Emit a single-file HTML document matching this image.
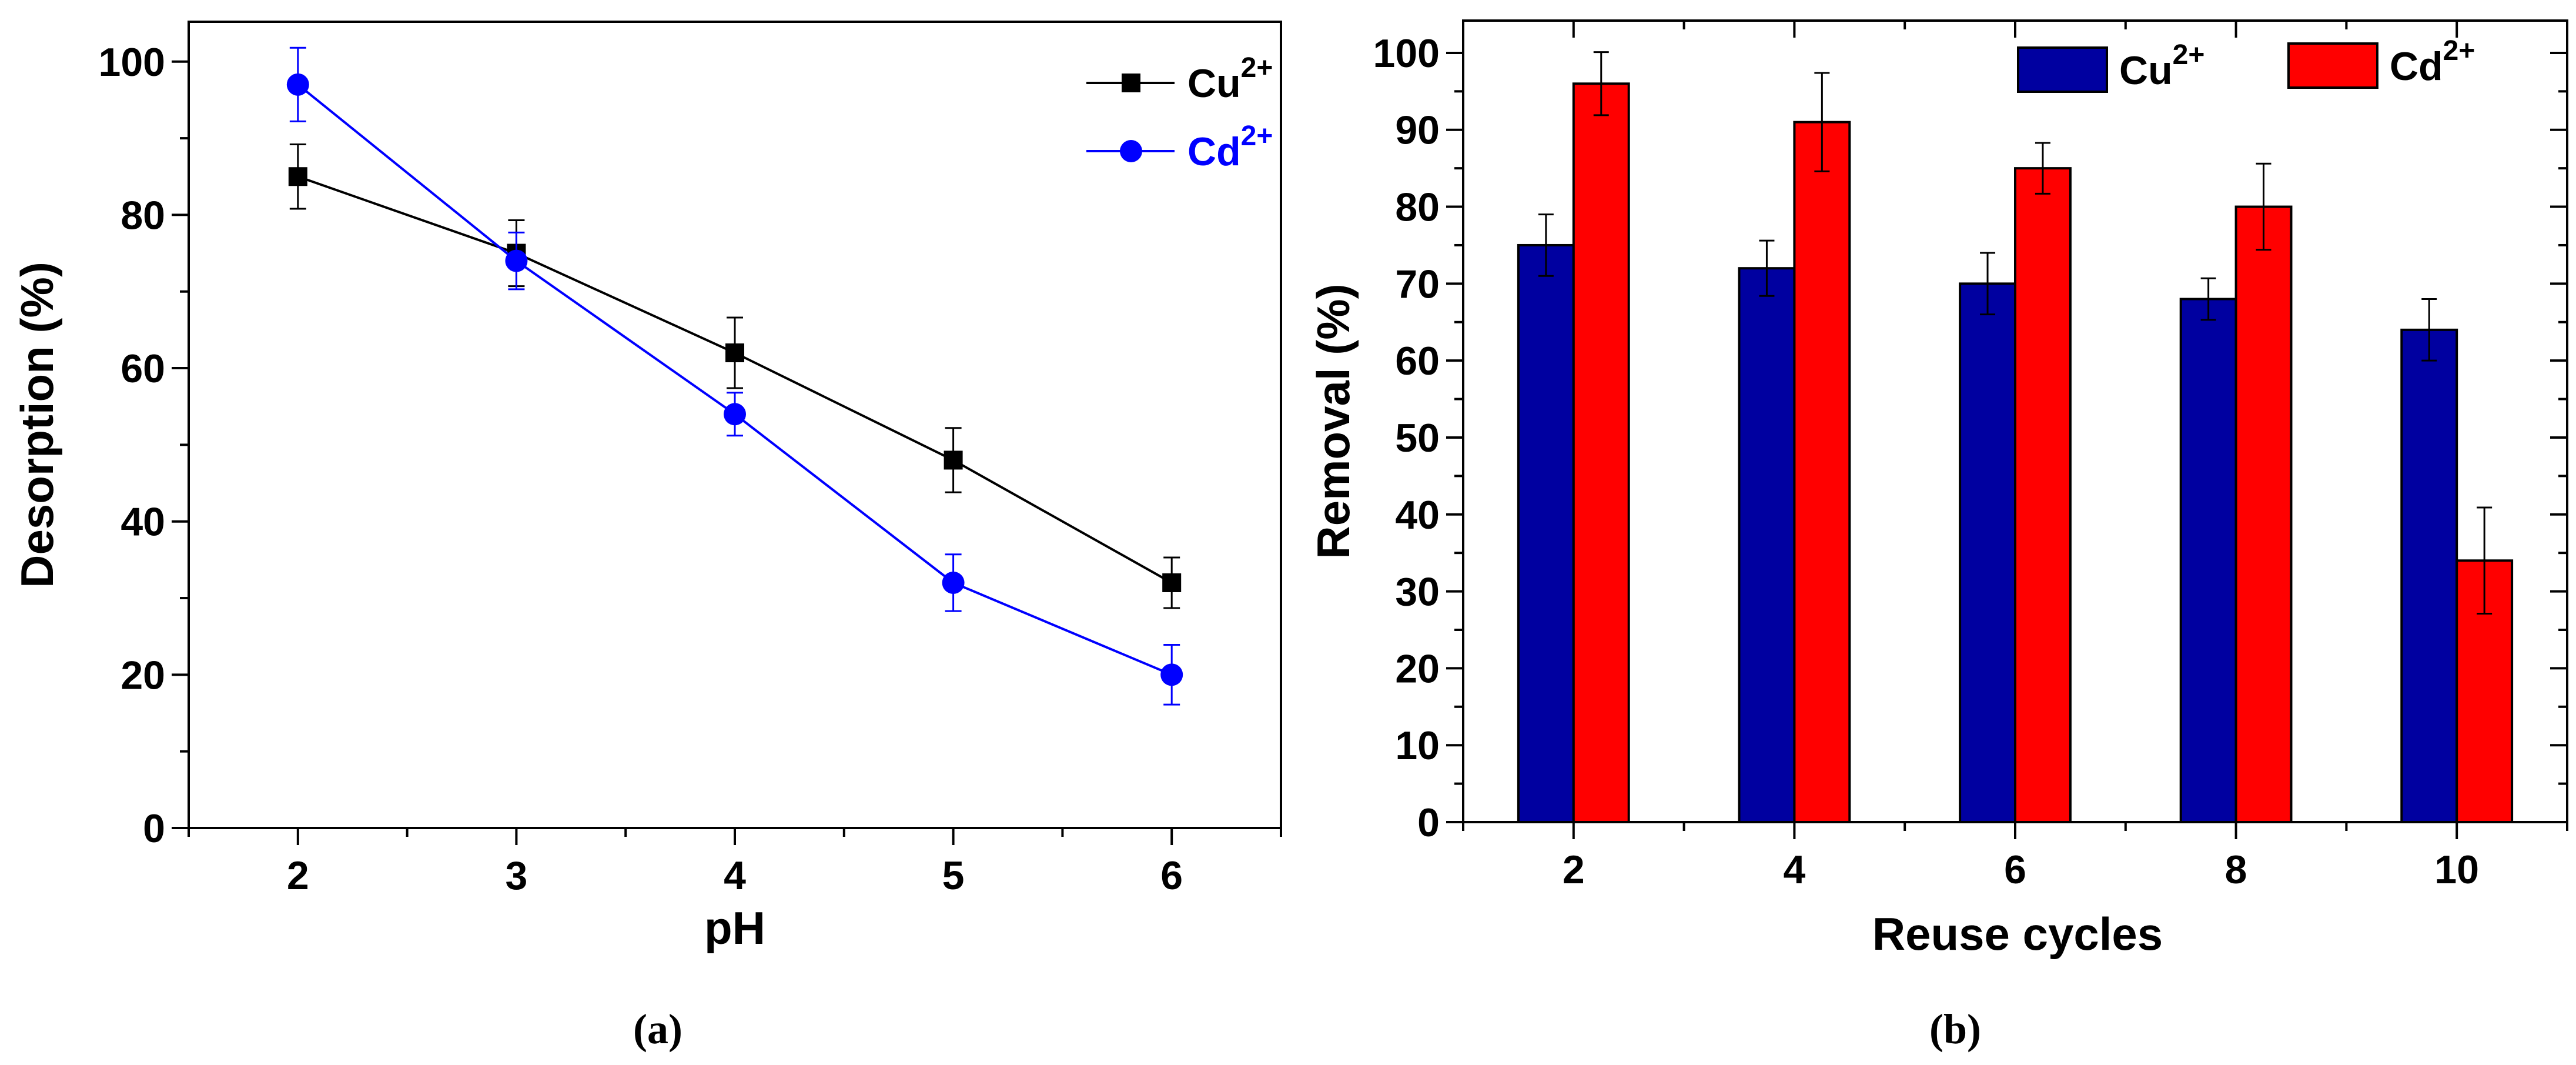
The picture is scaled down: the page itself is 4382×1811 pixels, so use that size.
<!DOCTYPE html>
<html><head><meta charset="utf-8"><style>
html,body{margin:0;padding:0;background:#fff;}
svg{display:block;}
text{font-family:"Liberation Sans",Arial,sans-serif;font-weight:bold;}
</style></head><body>
<svg id="fig" width="4382" height="1811" viewBox="0 0 4382 1811" xmlns="http://www.w3.org/2000/svg"></svg>
<script>
// ---- Chart (a) data ----
const phValues = [2, 3, 4, 5, 6];
const cuDesorption = [85, 75, 62, 48, 32];
const cuDesorptionErr = [4.2, 4.3, 4.6, 4.2, 3.3];
const cdDesorption = [97, 74, 54, 32, 20];
const cdDesorptionErr = [4.8, 3.7, 2.8, 3.7, 3.9];
const aYTicks = [0, 20, 40, 60, 80, 100];
const aXTicks = [2, 3, 4, 5, 6];
// ---- Chart (b) data ----
const reuseCycles = [2, 4, 6, 8, 10];
const cuRemoval = [75, 72, 70, 68, 64];
const cuRemovalErr = [4, 3.6, 4, 2.7, 4];
const cdRemoval = [96, 91, 85, 80, 34];
const cdRemovalErr = [4.1, 6.4, 3.3, 5.6, 6.9];
const bYTicks = [0, 10, 20, 30, 40, 50, 60, 70, 80, 90, 100];
const bXTicks = [2, 4, 6, 8, 10];

const NS = "http://www.w3.org/2000/svg";
const svg = document.getElementById('fig');
function mk(tag, attrs, parent) {
  const e = document.createElementNS(NS, tag);
  for (const k in attrs) e.setAttribute(k, attrs[k]);
  (parent || svg).appendChild(e);
  return e;
}
function line(x1, y1, x2, y2, stroke, w, p) {
  return mk('line', {x1, y1, x2, y2, stroke, 'stroke-width': w}, p);
}
function txt(x, y, s, size, anchor, p, fill) {
  const t = mk('text', {x, y, 'font-size': size, 'text-anchor': anchor || 'middle', fill: fill || '#000'}, p);
  t.textContent = s;
  return t;
}

// ================= Chart (a) =================
const A = {l: 321, r: 2179, t: 37, b: 1408, x0: 1.5, x1: 6.5, y0: 0, y1: 105.2};
const ax = v => A.l + (v - A.x0) / (A.x1 - A.x0) * (A.r - A.l);
const ay = v => A.b - (v - A.y0) / (A.y1 - A.y0) * (A.b - A.t);
const gA = mk('g', {});


const frameA = mk('rect', {x: A.l, y: A.t, width: A.r - A.l, height: A.b - A.t, fill: 'none', stroke: '#000', 'stroke-width': 4}, gA);


for (let v = 0; v <= 100; v += 10) {
  const major = v % 20 === 0;
  line(A.l, ay(v), A.l - (major ? 29 : 15), ay(v), '#000', 4, gA);
}
aYTicks.forEach(v => {
  const t = txt(A.l - 40, ay(v) + 24, String(v), 68, 'end', gA);
  
  
});
for (let v = 1.5; v <= 6.5; v += 0.5) {
  const major = Math.abs(v - Math.round(v)) < 1e-6;
  line(ax(v), A.b, ax(v), A.b + (major ? 29 : 15), '#000', 4, gA);
}
aXTicks.forEach(v => {
  const t = txt(ax(v), 1512, String(v), 68, 'middle', gA);
  
  
});
const yTitleA = txt(0, 0, 'Desorption (%)', 78, 'middle', gA);
yTitleA.setAttribute('transform', 'translate(90,' + ((A.t + A.b) / 2) + ') rotate(-90)');


const xTitleA = txt(ax(4), 1605, 'pH', 78, 'middle', gA);



function series(vals, errs, color, marker, name) {
  const g = mk('g', {}, gA);
  
  
  const pts = phValues.map((x, i) => ax(x) + ',' + ay(vals[i])).join(' ');
  mk('polyline', {points: pts, fill: 'none', stroke: color, 'stroke-width': 4}, g);
  phValues.forEach((x, i) => {
    const cx = ax(x), hi = ay(vals[i] + errs[i]), lo = ay(vals[i] - errs[i]);
    line(cx, hi, cx, lo, color, 3, g);
    line(cx - 14, hi, cx + 14, hi, color, 3, g);
    line(cx - 14, lo, cx + 14, lo, color, 3, g);
    let m;
    if (marker === 'square') m = mk('rect', {x: cx - 16, y: ay(vals[i]) - 16, width: 32, height: 32, fill: color}, g);
    else m = mk('circle', {cx, cy: ay(vals[i]), r: 19, fill: color}, g);
    
    
  });
}
series(cuDesorption, cuDesorptionErr, '#000', 'square', 'cu-desorption-series');
series(cdDesorption, cdDesorptionErr, '#0000ff', 'circle', 'cd-desorption-series');

const legA = mk('g', {}, gA);


[['Cu', '#000', 'square', 141], ['Cd', '#0000ff', 'circle', 257]].forEach(([lab, col, mkr, y]) => {
  const e = mk('g', {}, legA);
  
  
  line(1848, y, 1998, y, col, 4, e);
  if (mkr === 'square') mk('rect', {x: 1908, y: y - 16, width: 32, height: 32, fill: col}, e);
  else mk('circle', {cx: 1924, cy: y, r: 19, fill: col}, e);
  const t = txt(2020, y + 24, lab, 68, 'start', e, col);
  const s = mk('tspan', {dy: -34, 'font-size': 48}, t);
  s.textContent = '2+';
});

const capA = mk('text', {x: 1119, y: 1774, 'font-size': 72, 'text-anchor': 'middle', style: 'font-family:"Liberation Serif",serif;font-weight:bold'});
capA.textContent = '(a)';



// ================= Chart (b) =================
const B = {l: 2489, r: 4367, t: 35, b: 1398, x0: 1, x1: 11, y0: 0, y1: 104.2};
const bx = v => B.l + (v - B.x0) / (B.x1 - B.x0) * (B.r - B.l);
const by = v => B.b - (v - B.y0) / (B.y1 - B.y0) * (B.b - B.t);
const gB = mk('g', {});


const barW = bx(1.5) - bx(1);

function bars(vals, errs, offset, color, name) {
  const g = mk('g', {}, gB);
  
  
  reuseCycles.forEach((c, i) => {
    const cx = bx(c + offset);
    const r = mk('rect', {x: cx - barW / 2, y: by(vals[i]), width: barW, height: by(0) - by(vals[i]), fill: color, stroke: '#000', 'stroke-width': 4}, g);
    
    
    const hi = by(vals[i] + errs[i]), lo = by(vals[i] - errs[i]);
    line(cx, hi, cx, lo, '#000', 3, g);
    line(cx - 13, hi, cx + 13, hi, '#000', 3, g);
    line(cx - 13, lo, cx + 13, lo, '#000', 3, g);
  });
}
bars(cuRemoval, cuRemovalErr, -0.25, '#0000a0', 'cu-removal-series');
bars(cdRemoval, cdRemovalErr, 0.25, '#ff0000', 'cd-removal-series');

const frameB = mk('rect', {x: B.l, y: B.t, width: B.r - B.l, height: B.b - B.t, fill: 'none', stroke: '#000', 'stroke-width': 4}, gB);


for (let v = 0; v <= 100; v += 5) {
  const major = v % 10 === 0;
  const len = major ? 29 : 15;
  line(B.l, by(v), B.l - len, by(v), '#000', 4, gB);
  line(B.r, by(v), B.r - len, by(v), '#000', 4, gB);
}
for (let v = 1; v <= 11; v += 1) {
  const major = v % 2 === 0;
  const len = major ? 29 : 15;
  line(bx(v), B.b, bx(v), B.b + len, '#000', 4, gB);
  line(bx(v), B.t, bx(v), B.t + len, '#000', 4, gB);
}
bYTicks.forEach(v => {
  const t = txt(B.l - 40, by(v) + 24, String(v), 68, 'end', gB);
  
  
});
bXTicks.forEach(v => {
  const t = txt(bx(v), 1502, String(v), 68, 'middle', gB);
  
  
});
const yTitleB = txt(0, 0, 'Removal (%)', 78, 'middle', gB);
yTitleB.setAttribute('transform', 'translate(2295,' + ((B.t + B.b) / 2) + ') rotate(-90)');


const xTitleB = txt(3432, 1615, 'Reuse cycles', 78, 'middle', gB);



const legB = mk('g', {}, gB);


[['Cu', '#0000a0', 3433, 81], ['Cd', '#ff0000', 3893, 74]].forEach(([lab, col, x, y]) => {
  const e = mk('g', {}, legB);
  
  
  mk('rect', {x, y, width: 151, height: 75, fill: col, stroke: '#000', 'stroke-width': 4}, e);
  const t = txt(x + 172, y + 62, lab, 68, 'start', e);
  const s = mk('tspan', {dy: -34, 'font-size': 48}, t);
  s.textContent = '2+';
});

const capB = mk('text', {x: 3326, y: 1774, 'font-size': 72, 'text-anchor': 'middle', style: 'font-family:"Liberation Serif",serif;font-weight:bold'});
capB.textContent = '(b)';


</script>
</body></html>
